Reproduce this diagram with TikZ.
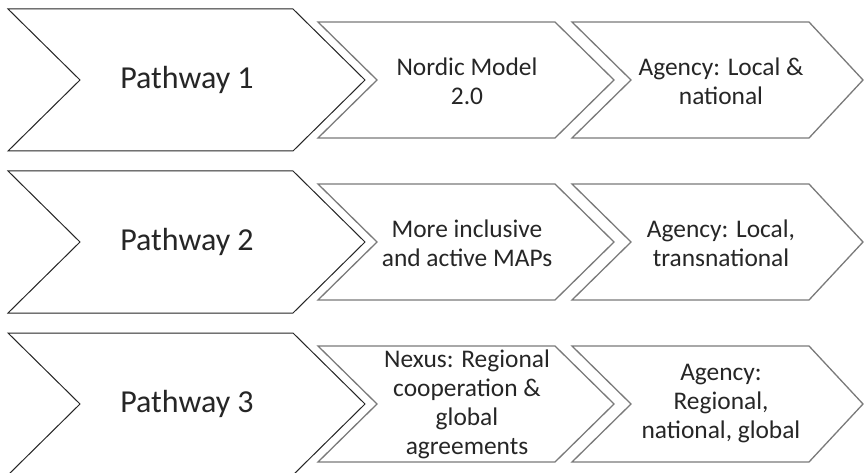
\documentclass[tikz,border=0pt]{standalone}
\usepackage{fontspec}
\setmainfont{Carlito}
\definecolor{inkdark}{HTML}{262626}
\definecolor{rimgray}{HTML}{7A7A7A}
\begin{document}
\begin{tikzpicture}[x=1pt,y=-1pt,
  bigchev/.style={draw=black!85,line width=1pt,fill=white,line join=miter},
  smallchev/.style={draw=rimgray,line width=1.3pt,fill=white,line join=miter},
  bigtext/.style={text=inkdark,font=\fontsize{32}{38}\selectfont,align=center,inner sep=0pt},
  smalltext/.style={text=inkdark,font=\fontsize{25.4}{29}\selectfont,align=center,inner sep=0pt}]
\useasboundingbox (0,0) rectangle (864,473);
\fill[white] (0,0) rectangle (864,473);

% one row: big chevron, two smaller chevrons, all centred on height #1
\foreach \cy/\n in {80/1,242/2,404/3}{
  \draw[bigchev] (8,\cy-71) -- (293,\cy-71) -- (365,\cy) -- (293,\cy+71)
     -- (8,\cy+71) -- (80,\cy) -- cycle;
  \draw[smallchev] (318,\cy-58) -- (555,\cy-58) -- (614,\cy) -- (555,\cy+58)
     -- (318,\cy+58) -- (377,\cy) -- cycle;
  \draw[smallchev] (572,\cy-58) -- (809,\cy-58) -- (863,\cy) -- (809,\cy+58)
     -- (572,\cy+58) -- (631,\cy) -- cycle;
  \node[bigtext] (path\n) at (187,\cy) {Pathway \n};
}

\node[smalltext] (mid1) at (467,81) {Nordic Model\\2.0};
\node[smalltext] (agency1) at (721,81) {Agency: Local \&\\national};
\node[smalltext] (mid2) at (467,243) {More inclusive\\and active MAPs};
\node[smalltext] (agency2) at (721,243) {Agency: Local,\\transnational};
\node[smalltext] (mid3) at (467,404) {Nexus: Regional\\cooperation \&\\global\\agreements};
\node[smalltext] (agency3) at (721,404) {Agency:\\Regional,\\national, global};
\end{tikzpicture}
\end{document}
